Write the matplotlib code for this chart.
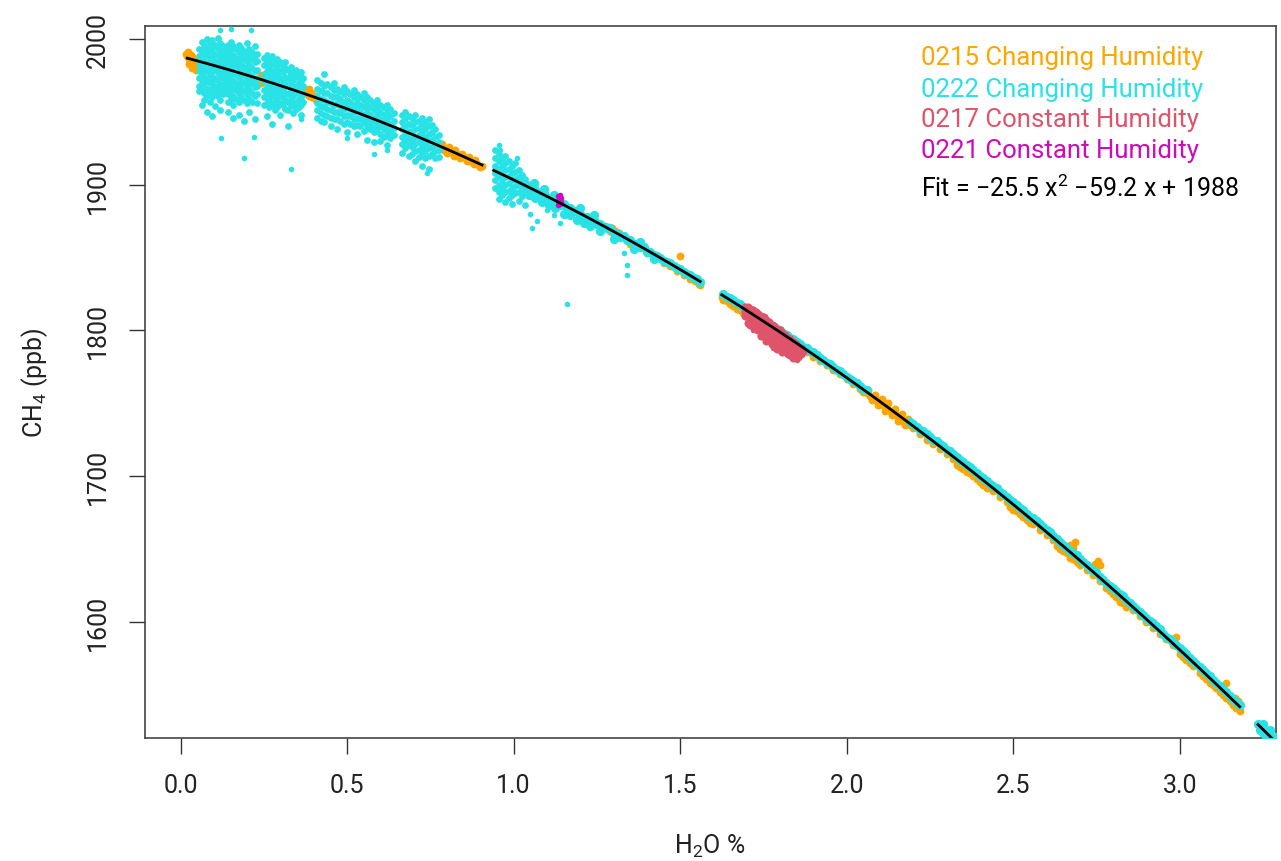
import numpy as np
import matplotlib.pyplot as plt

plt.rcParams['font.family'] = ['Roboto', 'DejaVu Sans']
plt.rcParams['mathtext.fontset'] = 'custom'
plt.rcParams['mathtext.rm'] = 'Roboto'
plt.rcParams['mathtext.it'] = 'Roboto'

# series colours (R 4 palette + orange)
col_0215 = '#FFA500'
col_0222 = '#28E2E5'
col_0217 = '#DF536B'
col_0221 = '#CD0BBC'

x_ticks = [0.0, 0.5, 1.0, 1.5, 2.0, 2.5, 3.0]
y_ticks = [1600, 1700, 1800, 1900, 2000]

# quadratic fit from the legend, and the x ranges where it is drawn
fit_coef = [-25.5, -59.2, 1988]
fit_segments = [(0.02, 0.905), (0.94, 1.56), (1.625, 3.18), (3.235, 3.30)]

# 0222 changing humidity: scattered clouds at low H2O, one column of readings per x
cyan_cloud_cols = [
    (0.055, [1993, 1988, 1983, 1978, 1973, 1968, 1964]),
    (0.063, [1998, 1992, 1987, 1981, 1976, 1970, 1965, 1955]),
    (0.071, [1996, 1991, 1985, 1979, 1974, 1969, 1963, 1958]),
    (0.079, [2000, 1994, 1989, 1983, 1978, 1972, 1966, 1961, 1950]),
    (0.087, [1997, 1992, 1986, 1980, 1975, 1970, 1964, 1957]),
    (0.095, [1999, 1993, 1988, 1982, 1977, 1971, 1966, 1960, 1947]),
    (0.103, [1996, 1990, 1985, 1979, 1973, 1968, 1962, 1954]),
    (0.111, [2001, 1994, 1989, 1983, 1977, 1972, 1966, 1961]),
    (0.119, [1997, 1992, 1986, 1981, 1975, 1969, 1964, 1958, 1951]),
    (0.127, [1995, 1990, 1984, 1978, 1973, 1967, 1962]),
    (0.134, [1993, 1987, 1981, 1976, 1970, 1965]),
    (0.142, [1996, 1990, 1984, 1979, 1973, 1968, 1962, 1957, 1950]),
    (0.150, [1998, 1993, 1987, 1981, 1976, 1970, 1965, 1959]),
    (0.158, [1995, 1989, 1984, 1978, 1972, 1967, 1961, 1955, 1946]),
    (0.166, [1993, 1987, 1982, 1976, 1970, 1965, 1959]),
    (0.174, [1996, 1991, 1985, 1980, 1974, 1968, 1963, 1957, 1948]),
    (0.182, [1994, 1988, 1983, 1977, 1971, 1966, 1960]),
    (0.190, [1992, 1986, 1981, 1975, 1970, 1964, 1958, 1944]),
    (0.198, [1997, 1990, 1985, 1979, 1973, 1968, 1962, 1956]),
    (0.206, [1993, 1988, 1982, 1976, 1971, 1965, 1959, 1950]),
    (0.214, [1991, 1986, 1980, 1974, 1969, 1963, 1957]),
    (0.222, [1995, 1989, 1984, 1978, 1972, 1967, 1961, 1945]),
    (0.230, [1990, 1985, 1979, 1973, 1968, 1962, 1956]),
    (0.250, [1987, 1982, 1976, 1971, 1965, 1960, 1955]),
    (0.258, [1989, 1984, 1978, 1973, 1967, 1962, 1956, 1947]),
    (0.266, [1986, 1980, 1975, 1969, 1964, 1958, 1953]),
    (0.274, [1988, 1983, 1977, 1972, 1966, 1961, 1955, 1942]),
    (0.282, [1985, 1979, 1974, 1968, 1963, 1957, 1951]),
    (0.290, [1986, 1981, 1975, 1970, 1964, 1959, 1953]),
    (0.298, [1984, 1978, 1973, 1967, 1962, 1956, 1948]),
    (0.306, [1982, 1977, 1971, 1966, 1960, 1955]),
    (0.314, [1984, 1980, 1974, 1969, 1963, 1958, 1952]),
    (0.322, [1979, 1973, 1968, 1962, 1957, 1951, 1940]),
    (0.330, [1981, 1976, 1970, 1965, 1959, 1954]),
    (0.338, [1977, 1972, 1966, 1961, 1955, 1949]),
    (0.346, [1979, 1974, 1968, 1963, 1957, 1952]),
    (0.354, [1975, 1970, 1964, 1959, 1953]),
    (0.362, [1977, 1971, 1966, 1960, 1955, 1948]),
    (0.368, [1973, 1968, 1962, 1957]),
    (0.410, [1972, 1966, 1961, 1956, 1951, 1946]),
    (0.420, [1970, 1964, 1959, 1954, 1949, 1944]),
    (0.430, [1976, 1968, 1963, 1958, 1953, 1948, 1943]),
    (0.440, [1969, 1963, 1957, 1952, 1947]),
    (0.450, [1967, 1961, 1956, 1951, 1946, 1940]),
    (0.460, [1970, 1965, 1960, 1955, 1950, 1945]),
    (0.470, [1966, 1961, 1956, 1950, 1945, 1938]),
    (0.480, [1964, 1959, 1954, 1949, 1944]),
    (0.490, [1967, 1962, 1957, 1952, 1947, 1942]),
    (0.500, [1964, 1958, 1953, 1948, 1943, 1936]),
    (0.510, [1962, 1957, 1952, 1947, 1942]),
    (0.520, [1965, 1960, 1955, 1950, 1945, 1940]),
    (0.530, [1962, 1957, 1951, 1946, 1941, 1935]),
    (0.540, [1960, 1955, 1950, 1945, 1940]),
    (0.550, [1963, 1958, 1953, 1948, 1943, 1937]),
    (0.560, [1960, 1955, 1950, 1945, 1940, 1931]),
    (0.570, [1958, 1953, 1948, 1943, 1938]),
    (0.580, [1956, 1951, 1946, 1941, 1936, 1929]),
    (0.590, [1958, 1953, 1948, 1943, 1938]),
    (0.600, [1955, 1950, 1945, 1940, 1935, 1930]),
    (0.610, [1953, 1948, 1943, 1938, 1933]),
    (0.620, [1955, 1950, 1945, 1940, 1935, 1927]),
    (0.630, [1952, 1947, 1942, 1937, 1932]),
    (0.640, [1949, 1944, 1939, 1934]),
    (0.665, [1948, 1943, 1938, 1933, 1928, 1922]),
    (0.675, [1950, 1945, 1940, 1935, 1930, 1925]),
    (0.685, [1947, 1942, 1937, 1932, 1927, 1920]),
    (0.695, [1946, 1941, 1936, 1931, 1926, 1921]),
    (0.705, [1948, 1943, 1938, 1933, 1928, 1923, 1916]),
    (0.715, [1944, 1939, 1934, 1929, 1924, 1919]),
    (0.725, [1946, 1941, 1936, 1931, 1926, 1921, 1913]),
    (0.735, [1943, 1938, 1933, 1928, 1923, 1918]),
    (0.745, [1945, 1940, 1935, 1930, 1925, 1920, 1911]),
    (0.755, [1941, 1936, 1931, 1926, 1921]),
    (0.765, [1938, 1933, 1928, 1923, 1918]),
    (0.775, [1934, 1929, 1924, 1919]),
    (0.945, [1924, 1918, 1913, 1908, 1903, 1898]),
    (0.955, [1921, 1916, 1911, 1906, 1900, 1895, 1890]),
    (0.965, [1918, 1913, 1908, 1903, 1898, 1893]),
    (0.975, [1920, 1915, 1910, 1905, 1900, 1895, 1888]),
    (0.985, [1916, 1911, 1906, 1901, 1896, 1891]),
    (0.995, [1913, 1908, 1903, 1898, 1893, 1887]),
    (1.005, [1915, 1909, 1904, 1899, 1894]),
    (1.015, [1910, 1905, 1900, 1895, 1889]),
    (1.025, [1907, 1902, 1897, 1892]),
    (1.035, [1904, 1899, 1894, 1886]),
]

cyan_stray_x = [0.117, 0.150, 0.120, 0.190, 0.210, 0.220, 0.330, 0.360, 0.580, 0.620,
                0.740, 0.500, 0.960, 0.955, 1.010, 1.055, 1.050, 1.070, 1.160, 1.330,
                1.340, 1.340, 1.100, 1.120, 1.140]
cyan_stray_y = [2006, 2007, 1932, 1918, 2006, 1933, 1911, 1945, 1921, 1924,
                1908, 1932, 1924, 1927, 1918, 1870, 1880, 1875, 1818, 1853,
                1845, 1838, 1883, 1879, 1874]

# 0222 along the fit where the readings are tight
cyan_band = [
    (1.04, 1900), (1.05, 1897), (1.06, 1898), (1.07, 1895), (1.08, 1893), (1.09, 1894), (1.10, 1891),
    (1.11, 1891), (1.12, 1889), (1.13, 1889), (1.14, 1886), (1.15, 1887), (1.16, 1884), (1.17, 1884),
    (1.18, 1882), (1.19, 1882), (1.20, 1880), (1.21, 1878), (1.22, 1878), (1.23, 1876), (1.24, 1876),
    (1.25, 1873), (1.26, 1873), (1.27, 1871), (1.28, 1870), (1.29, 1870), (1.30, 1867), (1.31, 1867),
    (1.32, 1864), (1.33, 1865), (1.34, 1862), (1.35, 1862), (1.36, 1859), (1.37, 1859), (1.38, 1857),
    (1.39, 1857), (1.40, 1854), (1.41, 1854), (1.42, 1852), (1.43, 1851), (1.44, 1850), (1.45, 1848),
    (1.46, 1847), (1.47, 1846), (1.48, 1844), (1.49, 1843), (1.50, 1842), (1.51, 1840), (1.52, 1839),
    (1.53, 1838), (1.54, 1836), (1.55, 1835), (1.56, 1833),
    (1.045, 1893), (1.065, 1891), (1.085, 1888), (1.105, 1886), (1.125, 1884), (1.15, 1880),
    (1.17, 1879), (1.19, 1876), (1.21, 1874), (1.23, 1872), (1.26, 1868), (1.30, 1863),
    (1.36, 1856), (1.42, 1849), (1.06, 1901), (1.09, 1897), (1.12, 1893), (1.20, 1884),
    (1.24, 1879), (1.38, 1861),
    (1.63, 1825), (1.64, 1823), (1.65, 1822), (1.66, 1821), (1.67, 1819), (1.68, 1818), (1.69, 1816),
    (1.70, 1815), (1.71, 1813), (1.72, 1812), (1.73, 1810), (1.74, 1809), (1.75, 1807), (1.76, 1806),
    (1.77, 1804), (1.78, 1803), (1.79, 1801), (1.80, 1800), (1.81, 1798), (1.82, 1797), (1.83, 1795),
    (1.84, 1794), (1.85, 1792), (1.86, 1791), (1.87, 1789), (1.88, 1788), (1.89, 1786), (1.90, 1785),
    (1.91, 1783), (1.92, 1781), (1.93, 1780), (1.94, 1778), (1.95, 1777), (1.96, 1775), (1.97, 1773),
    (1.98, 1772), (1.99, 1770), (2.00, 1768), (2.01, 1767), (2.02, 1765), (2.03, 1764), (2.04, 1762),
    (2.05, 1760), (2.06, 1759),
    (2.19, 1737), (2.20, 1736), (2.21, 1734), (2.22, 1732), (2.23, 1731), (2.24, 1729), (2.25, 1727),
    (2.26, 1725), (2.27, 1724), (2.28, 1722), (2.29, 1721), (2.30, 1718), (2.31, 1717), (2.32, 1715),
    (2.33, 1713), (2.34, 1711), (2.35, 1710), (2.36, 1708), (2.37, 1706), (2.38, 1704), (2.39, 1702),
    (2.40, 1700), (2.41, 1699), (2.42, 1697), (2.43, 1695), (2.44, 1693), (2.45, 1692), (2.46, 1689),
    (2.47, 1688), (2.48, 1686), (2.49, 1684), (2.50, 1682), (2.51, 1680), (2.52, 1678), (2.53, 1677),
    (2.54, 1674), (2.55, 1672), (2.56, 1671), (2.57, 1669), (2.58, 1667), (2.59, 1665), (2.60, 1663),
    (2.61, 1662), (2.62, 1659), (2.63, 1657), (2.64, 1655), (2.65, 1653), (2.66, 1651), (2.67, 1649),
    (2.68, 1647), (2.69, 1646), (2.70, 1643), (2.71, 1641), (2.72, 1639), (2.73, 1637), (2.74, 1635),
    (2.75, 1634), (2.76, 1631), (2.77, 1629), (2.78, 1627), (2.79, 1625), (2.80, 1623), (2.81, 1621),
    (2.82, 1619), (2.83, 1618), (2.84, 1615), (2.85, 1613), (2.86, 1611), (2.87, 1609), (2.88, 1607),
    (2.89, 1605), (2.90, 1603), (2.91, 1601), (2.92, 1599), (2.93, 1597), (2.94, 1595), (2.95, 1592),
    (2.96, 1590), (2.97, 1588), (2.98, 1586), (2.99, 1584), (3.00, 1582), (3.01, 1580), (3.02, 1578),
    (3.03, 1575), (3.04, 1573), (3.05, 1571), (3.06, 1569), (3.07, 1567), (3.08, 1565), (3.09, 1563),
    (3.10, 1560), (3.11, 1558), (3.12, 1556), (3.13, 1554), (3.14, 1552), (3.15, 1549), (3.16, 1547),
    (3.17, 1545), (3.18, 1543),
    (3.235, 1530), (3.245, 1528), (3.255, 1526), (3.265, 1524), (3.275, 1521), (3.285, 1519),
    (3.295, 1517), (3.24, 1526), (3.25, 1524), (3.26, 1522), (3.27, 1519), (3.28, 1517),
    (3.29, 1515), (3.25, 1530), (3.27, 1526), (3.29, 1521),
]

# 0215 changing humidity
orange_pts = [
    (0.016, 1990), (0.020, 1988), (0.022, 1991), (0.026, 1986), (0.030, 1989), (0.034, 1984),
    (0.036, 1987), (0.040, 1983), (0.044, 1986), (0.048, 1981), (0.050, 1984), (0.054, 1982),
    (0.025, 1983), (0.035, 1980), (0.045, 1979),
    (0.238, 1973), (0.242, 1970), (0.240, 1975),
    (0.370, 1966), (0.375, 1963), (0.380, 1964), (0.385, 1961), (0.390, 1963), (0.395, 1960),
    (0.400, 1961), (0.405, 1958), (0.410, 1959), (0.385, 1966),
    (0.78, 1925), (0.79, 1924), (0.80, 1922), (0.81, 1923), (0.82, 1920), (0.83, 1921), (0.84, 1918),
    (0.85, 1919), (0.86, 1916), (0.87, 1916), (0.88, 1914), (0.89, 1914), (0.90, 1912), (0.905, 1913),
    (0.785, 1928), (0.805, 1926), (0.825, 1924), (0.845, 1921), (0.865, 1919), (0.885, 1917),
    (1.275, 1872), (1.285, 1871), (1.290, 1868), (1.295, 1870), (1.300, 1866), (1.305, 1868),
    (1.310, 1865), (1.315, 1867), (1.22, 1876), (1.40, 1853), (1.45, 1846), (1.47, 1844),
    (1.49, 1841), (1.51, 1838), (1.53, 1835), (1.545, 1834), (1.555, 1832), (1.56, 1831),
    (1.50, 1851), (1.35, 1859),
    (1.625, 1823), (1.63, 1821), (1.64, 1820), (1.65, 1818), (1.66, 1817), (1.67, 1815),
    (1.68, 1814), (1.69, 1812), (1.70, 1811),
    (1.88, 1785), (1.90, 1782), (1.92, 1779), (1.94, 1776), (1.96, 1773), (1.98, 1770),
    (2.00, 1767), (2.02, 1763), (2.04, 1760),
    (2.05, 1758), (2.06, 1757), (2.07, 1755), (2.08, 1754), (2.09, 1752), (2.10, 1750), (2.11, 1749),
    (2.12, 1747), (2.13, 1745), (2.14, 1743), (2.15, 1742), (2.16, 1740), (2.17, 1738), (2.18, 1737),
    (2.19, 1735), (2.20, 1733), (2.065, 1759), (2.085, 1756), (2.105, 1753), (2.125, 1750),
    (2.145, 1746), (2.165, 1743), (2.185, 1739), (2.075, 1752), (2.095, 1749), (2.115, 1745),
    (2.135, 1742), (2.155, 1738), (2.175, 1735),
    (2.22, 1729), (2.24, 1725), (2.26, 1722), (2.28, 1719), (2.30, 1715), (2.32, 1712), (2.33, 1708),
    (2.34, 1706), (2.35, 1705), (2.36, 1703), (2.37, 1702), (2.38, 1700), (2.39, 1698), (2.40, 1696),
    (2.41, 1694), (2.42, 1692), (2.44, 1690), (2.46, 1686), (2.48, 1682), (2.49, 1679), (2.50, 1677),
    (2.51, 1676), (2.52, 1674), (2.53, 1672), (2.54, 1670), (2.55, 1668), (2.56, 1667), (2.58, 1663),
    (2.60, 1660), (2.62, 1656), (2.63, 1652), (2.64, 1650), (2.65, 1649), (2.66, 1647), (2.67, 1644),
    (2.68, 1643), (2.69, 1641), (2.70, 1639), (2.72, 1636), (2.74, 1632), (2.745, 1640), (2.755, 1642),
    (2.76, 1639), (2.76, 1628), (2.78, 1623), (2.79, 1621), (2.80, 1619), (2.81, 1617), (2.82, 1614),
    (2.83, 1613), (2.84, 1610), (2.86, 1608), (2.88, 1604), (2.90, 1600), (2.92, 1596), (2.94, 1592),
    (2.96, 1588), (2.98, 1584), (2.99, 1590), (3.00, 1578), (3.01, 1576), (3.02, 1574), (3.03, 1572),
    (3.04, 1570), (3.06, 1565), (3.07, 1563), (3.08, 1561), (3.09, 1558), (3.10, 1557), (3.11, 1555),
    (3.12, 1552), (3.13, 1550), (3.14, 1548), (3.14, 1558), (3.15, 1546), (3.16, 1543), (3.165, 1548),
    (3.17, 1541), (3.175, 1546), (3.18, 1539), (2.67, 1653), (2.68, 1651), (2.685, 1655),
]

# 0217 constant humidity
red_cols = [
    (1.695, [1816, 1813, 1810]),
    (1.703, [1816, 1812, 1809, 1805]),
    (1.711, [1815, 1811, 1808, 1804]),
    (1.719, [1814, 1810, 1807, 1803]),
    (1.727, [1813, 1809, 1805, 1801]),
    (1.735, [1811, 1808, 1804, 1800]),
    (1.743, [1810, 1806, 1803, 1799, 1796]),
    (1.751, [1809, 1805, 1801, 1798]),
    (1.759, [1807, 1804, 1800, 1796, 1793]),
    (1.767, [1806, 1802, 1799, 1795]),
    (1.775, [1804, 1801, 1797, 1794, 1791]),
    (1.783, [1803, 1799, 1796, 1792, 1789]),
    (1.791, [1801, 1798, 1794, 1791, 1787]),
    (1.799, [1800, 1796, 1793, 1789]),
    (1.807, [1798, 1795, 1791, 1788, 1785]),
    (1.815, [1797, 1793, 1790, 1786]),
    (1.823, [1795, 1792, 1788, 1784]),
    (1.831, [1794, 1790, 1787, 1783]),
    (1.839, [1792, 1789, 1785, 1781]),
    (1.847, [1791, 1787, 1784]),
    (1.855, [1789, 1786, 1782]),
    (1.863, [1788, 1784]),
    (1.870, [1786]),
]
red_stray_x = [1.850, 1.740, 1.720]
red_stray_y = [1780, 1797, 1800]

# 0221 constant humidity
magenta_x = [1.133, 1.133, 1.134, 1.138, 1.138, 1.138, 1.142, 1.142, 1.136, 1.140]
magenta_y = [1892, 1889, 1886, 1893, 1890, 1887, 1891, 1888, 1891, 1889]

legend_labels = ['0215 Changing Humidity', '0222 Changing Humidity',
                 '0217 Constant Humidity', '0221 Constant Humidity']
legend_colors = [col_0215, col_0222, col_0217, col_0221]
fit_label = 'Fit = \u221225.5 x$^{2}$ \u221259.2 x + 1988'


def unpack_cols(cols):
    xs, ys = [], []
    for x, col in cols:
        xs += [x] * len(col)
        ys += col
    return xs, ys


W, H = 1281, 862
fig = plt.figure(figsize=(W / 100, H / 100), dpi=100)
ax = fig.add_axes([145 / W, (H - 739) / H, (1276 - 145) / W, (739 - 27) / H])

cloud_s = 24
stray_s = 16
band_s = 44

ox, oy = zip(*orange_pts)
ax.scatter(ox, oy, s=32, color=col_0215, linewidths=0, zorder=2)

cx, cy = unpack_cols(cyan_cloud_cols)
ax.scatter(cx, cy, s=cloud_s, color=col_0222, linewidths=0, zorder=3)
ax.scatter(cyan_stray_x, cyan_stray_y, s=stray_s, color=col_0222, linewidths=0, zorder=3)
bx, by = zip(*cyan_band)
ax.scatter(bx, by, s=band_s, color=col_0222, linewidths=0, zorder=3)

rx, ry = unpack_cols(red_cols)
ax.scatter(rx, ry, s=34, color=col_0217, linewidths=0, zorder=4)
ax.scatter(red_stray_x, red_stray_y, s=stray_s, color=col_0217, linewidths=0, zorder=4)

ax.scatter(magenta_x, magenta_y, s=stray_s, color=col_0221, linewidths=0, zorder=5)

for x0, x1 in fit_segments:
    xs = np.linspace(x0, x1, 100)
    ax.plot(xs, np.polyval(fit_coef, xs), color='black', lw=2, zorder=6)

ax.set_xlim(-0.107, 3.289)
ax.set_ylim(1520.4, 2008.9)
ax.set_xticks(x_ticks)
ax.set_xticklabels(['%.1f' % v for v in x_ticks])
ax.set_yticks(y_ticks)
ax.set_yticklabels([str(v) for v in y_ticks], rotation=90, va='center')
ax.tick_params(direction='out', length=11.5, width=1, color='#333333',
               labelsize=18, pad=14, labelcolor='#222222')
for sp in ax.spines.values():
    sp.set_color('#444444')
    sp.set_linewidth(1.2)

fig.text(710 / W, 1 - 846 / H, 'H$_{2}$O %', fontsize=18, ha='center', va='center', color='#222222')
fig.text(35 / W, 1 - 383 / H, 'CH$_{4}$ (ppb)', fontsize=18, ha='center', va='center',
         rotation=90, color='#222222')

baselines = [65, 97, 127, 158]
for lab, c, b in zip(legend_labels, legend_colors, baselines):
    fig.text(921 / W, 1 - b / H, lab, color=c, fontsize=18.5, ha='left', va='baseline')
fig.text(921 / W, 1 - 197 / H, fit_label, color='black', fontsize=18, ha='left', va='baseline')

fig.savefig('out.png', dpi=100)
